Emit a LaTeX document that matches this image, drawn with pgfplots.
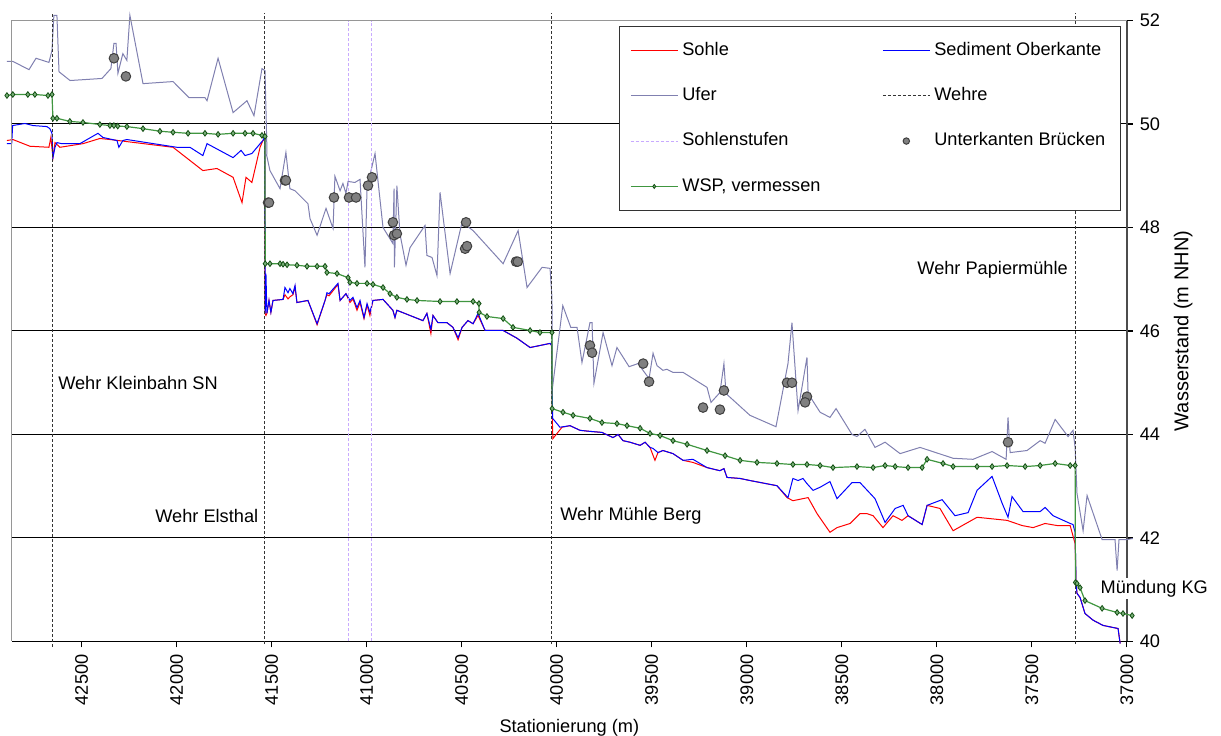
\documentclass[border=0pt]{standalone}
\usepackage{fontspec}
\setmainfont{Liberation Sans}
\usepackage{pgfplots}
\pgfplotsset{compat=1.18}
\usetikzlibrary{calc}
\definecolor{ufer}{RGB}{128,128,176}
\definecolor{stufe}{RGB}{200,170,255}
\definecolor{wsp}{RGB}{64,150,64}
\definecolor{wspdark}{RGB}{20,80,20}
\definecolor{wspfill}{RGB}{120,175,120}
\definecolor{framec}{RGB}{150,150,150}
\newcommand\fsz{\fontsize{9.1}{11}\selectfont}
\pgfplotsset{
 lineleg/.style={legend image code/.code={\draw[##1] (0pt,0pt) -- (23.5pt,0pt);}},
 markleg/.style={legend image code/.code={\draw[##1, mark size=1.6pt] plot coordinates {(11.75pt,0pt)};}},
 wspleg/.style={legend image code/.code={\draw[mark repeat=2, mark phase=2, ##1, mark size=1pt] plot coordinates {(0pt,0pt) (11.75pt,0pt) (23.5pt,0pt)};}},
}
\begin{document}
\begin{tikzpicture}
\begin{axis}[name=ax, scale only axis, width=557.5pt, height=310.5pt,
 x dir=reverse, xmin=37000, xmax=42867, ymin=40, ymax=52,
 clip=false,
 axis x line*=bottom, axis y line*=right,
 x axis line style={black, line width=0.8pt, -},
 y axis line style={black!70, line width=0.8pt, -},
 xtick={37000,37500,...,42500}, ytick={40,42,...,52},
 scaled x ticks=false,
 tick align=outside, major tick length=3pt, tick style={black, line width=0.6pt},
 ymajorgrids, grid style={black, line width=0.5pt},
 /pgf/number format/assume math mode=true,
 /pgf/number format/set thousands separator={},
 xticklabel style={rotate=90, anchor=east, /pgf/number format/fixed, /pgf/number format/precision=0},
 ticklabel style={font=\fsz},
 label style={font=\fsz},
 xlabel={Stationierung (m)}, ylabel={Wasserstand (m NHN)},
 ylabel near ticks, yticklabel pos=right,
 legend columns=2, legend cell align=left,
 legend style={at={(0.9947,0.9912)}, anchor=north east, draw=black!80, line width=0.6pt,
   font=\fsz, inner sep=5.5pt, row sep=10pt,
   nodes={inner sep=2pt, text height=6.8pt, text depth=1.9pt}},
]
% Sohle
\addplot[draw=red, line width=0.5pt, lineleg] coordinates {
(42893,49.68) (42862,49.70) (42772,49.57) (42672,49.55) (42662,49.74) (42651,49.35) (42640,49.64)
(42614,49.55) (42493,49.62) (42404,49.72) (42351,49.70) (42262,49.66) (42019,49.55) (41862,49.10)
(41788,49.14) (41703,48.97) (41656,48.48) (41635,48.97) (41604,48.87) (41561,49.55) (41546,49.68)
(41536,49.70) (41535,46.34) (41530,46.30) (41525,46.34) (41514,46.59) (41504,46.36) (41493,46.59)
(41440,46.61) (41430,46.70) (41414,46.62) (41404,46.66) (41388,46.70) (41377,46.85) (41367,46.55)
(41309,46.59) (41261,46.12) (41219,46.59) (41209,46.70) (41198,46.68) (41151,46.90) (41140,46.59)
(41109,46.72) (41088,46.55) (41072,46.62) (41051,46.40) (41035,46.55) (41014,46.24) (40998,46.50)
(40983,46.30) (40967,46.59) (40914,46.61) (40862,46.40) (40851,46.26) (40841,46.40) (40704,46.20)
(40683,46.34) (40662,45.95) (40651,46.30) (40625,46.16) (40577,46.16) (40546,46.07) (40519,45.83)
(40498,46.07) (40467,46.20) (40440,46.14) (40414,46.30) (40377,46.01) (40282,46.01) (40209,45.86)
(40140,45.68) (40035,45.76) (40027,45.72) (40023,44.27) (40020,43.92) (39972,44.14) (39930,44.17)
(39877,44.08) (39825,44.06) (39762,44.04) (39704,43.94) (39677,44.00) (39651,43.88) (39614,43.85)
(39561,43.79) (39535,43.85) (39509,43.75) (39483,43.50) (39467,43.65) (39441,43.69) (39388,43.63)
(39335,43.50) (39283,43.46) (39209,43.36) (39141,43.30) (39120,43.34) (39104,43.17) (39035,43.15)
(38983,43.11) (38841,43.01) (38788,42.78) (38757,42.72) (38704,42.76) (38677,42.78) (38630,42.47)
(38562,42.11) (38525,42.20) (38456,42.28) (38404,42.47) (38367,42.47) (38335,42.43) (38283,42.20)
(38230,42.43) (38183,42.34) (38151,42.43) (38077,42.26) (38051,42.63) (37983,42.57) (37914,42.14)
(37788,42.40) (37630,42.34) (37551,42.24) (37493,42.20) (37430,42.28) (37367,42.24) (37298,42.24)
(37272,41.89) (37267,41.12) (37262,40.93) (37246,40.85) (37220,40.54) (37177,40.41) (37125,40.31)
(37046,40.25) (37035,39.96)
};
\addlegendentry{\makebox[98pt][l]{Sohle}}
% Sediment Oberkante
\addplot[draw=blue, line width=0.5pt, lineleg] coordinates {
(42893,49.62) (42868,49.62) (42863,49.97) (42798,50.01) (42756,49.97) (42683,49.95) (42667,49.91)
(42656,49.82) (42651,49.35) (42640,49.55) (42630,49.64) (42604,49.62) (42509,49.62) (42414,49.82)
(42388,49.74) (42314,49.68) (42304,49.55) (42283,49.68) (42262,49.70) (41999,49.55) (41930,49.55)
(41862,49.39) (41840,49.62) (41703,49.35) (41661,49.49) (41640,49.39) (41604,49.43) (41556,49.64)
(41546,49.68) (41536,49.76) (41534,46.34) (41530,47.11) (41525,46.34) (41514,46.59) (41504,46.36)
(41493,46.59) (41440,46.61) (41430,46.84) (41414,46.74) (41404,46.82) (41388,46.72) (41377,46.88)
(41367,46.55) (41309,46.59) (41261,46.14) (41219,46.59) (41209,46.74) (41198,46.72) (41151,46.92)
(41140,46.59) (41109,46.72) (41088,46.59) (41072,46.65) (41051,46.45) (41035,46.59) (41014,46.26)
(40998,46.53) (40983,46.36) (40967,46.59) (40914,46.61) (40862,46.40) (40851,46.26) (40841,46.40)
(40704,46.20) (40683,46.34) (40662,46.03) (40651,46.30) (40625,46.16) (40577,46.16) (40546,46.07)
(40519,45.87) (40498,46.07) (40467,46.20) (40440,46.14) (40414,46.34) (40377,46.01) (40282,46.01)
(40209,45.86) (40140,45.68) (40035,45.76) (40026,45.72) (40025,45.01) (40021,44.31) (39983,44.14)
(39930,44.17) (39877,44.08) (39825,44.06) (39762,44.04) (39704,43.94) (39677,44.00) (39651,43.88)
(39614,43.85) (39561,43.79) (39535,43.85) (39509,43.75) (39493,43.73) (39467,43.65) (39441,43.69)
(39388,43.63) (39335,43.50) (39283,43.52) (39209,43.36) (39141,43.30) (39120,43.34) (39104,43.17)
(39035,43.15) (38983,43.11) (38841,43.01) (38783,42.78) (38757,43.15) (38730,43.11) (38704,43.15)
(38683,43.05) (38651,42.92) (38614,42.98) (38562,43.09) (38525,42.76) (38446,43.07) (38404,43.07)
(38325,42.76) (38272,42.30) (38219,42.57) (38177,42.63) (38151,42.43) (38077,42.26) (38051,42.63)
(37972,42.74) (37904,42.43) (37835,42.49) (37788,42.92) (37709,43.19) (37656,42.67) (37625,42.40)
(37604,42.80) (37546,42.51) (37456,42.51) (37430,42.59) (37388,42.43) (37298,42.28) (37283,42.26)
(37272,42.11) (37267,41.12) (37262,40.93) (37246,40.85) (37220,40.54) (37177,40.41) (37125,40.31)
(37046,40.25) (37035,39.96)
};
\addlegendentry{Sediment Oberkante}
% Ufer
\addplot[draw=ufer, line width=0.5pt, lineleg] coordinates {
(42893,51.21) (42862,51.21) (42777,51.05) (42740,51.27) (42672,51.19) (42656,51.42) (42646,52.10)
(42630,52.10) (42619,51.01) (42561,50.84) (42393,50.88) (42346,51.07) (42330,51.56) (42319,51.56)
(42309,50.98) (42283,51.36) (42262,51.23) (42246,52.10) (42177,50.78) (42019,50.82) (41935,50.51)
(41851,50.51) (41840,50.45) (41782,51.27) (41703,50.22) (41630,50.45) (41593,50.16) (41551,51.07)
(41535,51.03) (41525,49.53) (41526,49.39) (41509,49.10) (41456,48.75) (41425,49.45) (41404,48.75)
(41377,48.71) (41309,48.46) (41298,48.17) (41261,47.85) (41214,48.37) (41177,47.98) (41167,48.99)
(41140,48.71) (41125,48.85) (41109,48.66) (41098,48.89) (41062,48.87) (41035,48.93) (41009,47.23)
(40998,48.77) (40956,49.43) (40914,48.00) (40862,47.69) (40856,48.75) (40854,47.23) (40841,48.81)
(40825,47.88) (40793,47.27) (40772,47.61) (40693,48.04) (40683,47.46) (40656,47.42) (40630,47.07)
(40614,48.68) (40561,47.11) (40498,48.10) (40440,47.94) (40282,47.30) (40203,47.94) (40156,46.84)
(40077,47.23) (40035,47.21) (40025,46.65) (40022,44.91) (39968,46.49) (39926,46.07) (39893,46.07)
(39867,45.39) (39825,46.16) (39814,46.16) (39804,44.99) (39756,45.97) (39709,45.33) (39683,45.68)
(39619,45.31) (39572,45.37) (39514,45.08) (39493,45.57) (39472,45.33) (39441,45.24) (39420,45.26)
(39388,45.20) (39335,45.20) (39209,44.91) (39188,44.62) (39141,44.81) (39120,45.37) (39109,44.79)
(38983,44.37) (38846,44.15) (38783,45.37) (38762,46.16) (38730,44.46) (38683,45.49) (38677,44.79)
(38614,44.43) (38562,44.33) (38530,44.50) (38446,44.00) (38420,43.96) (38378,44.10) (38325,43.75)
(38272,43.85) (38193,43.63) (38088,43.75) (37914,43.54) (37809,43.52) (37709,43.67) (37635,43.52)
(37625,44.33) (37614,43.65) (37525,43.69) (37456,43.88) (37430,43.83) (37377,44.29) (37309,43.96)
(37283,44.08) (37272,43.75) (37262,42.86) (37230,42.14) (37209,42.82) (37130,41.97) (37062,41.97)
(37051,41.37) (37041,41.97) (37000,41.97) (36968,41.99)
};
\addlegendentry{\makebox[98pt][l]{Ufer}}
% Wehre
\addplot[draw=black!80, line width=0.5pt, dash pattern=on 1.5pt off 1pt, lineleg] coordinates {(42653,39.9) (42653,52.15)};
\addlegendentry{Wehre}
\addplot[draw=black!80, line width=0.5pt, dash pattern=on 1.5pt off 1pt, forget plot] coordinates {(41536,39.95) (41536,52.15)};
\addplot[draw=black!80, line width=0.5pt, dash pattern=on 1.5pt off 1pt, forget plot] coordinates {(40027,39.95) (40027,52.15)};
\addplot[draw=black!80, line width=0.5pt, dash pattern=on 1.5pt off 1pt, forget plot] coordinates {(37271,39.95) (37271,52.15)};
% Sohlenstufen
\addplot[draw=stufe, line width=0.5pt, dash pattern=on 1.5pt off 1pt, lineleg] coordinates {(41094,40) (41094,52)};
\addlegendentry{\makebox[98pt][l]{Sohlenstufen}}
\addplot[draw=stufe, line width=0.5pt, dash pattern=on 1.5pt off 1pt, forget plot] coordinates {(40974,40) (40974,52)};
% Unterkanten Bruecken
\addplot[only marks, mark=*, mark size=2.4pt, mark options={fill=black!50, draw=black!75, line width=0.5pt}, markleg] coordinates {
(42330,51.27) (42267,50.92) (41519,48.48) (41514,48.48) (41430,48.91) (41425,48.91) (41172,48.58)
(41093,48.58) (41056,48.58) (40993,48.81) (40972,48.97) (40862,48.10) (40856,47.85) (40841,47.88)
(40477,48.10) (40482,47.59) (40472,47.64) (40214,47.34) (40205,47.34) (39825,45.72) (39814,45.58)
(39545,45.37) (39514,45.02) (39230,44.52) (39141,44.48) (39120,44.85) (38788,45.00) (38762,45.00)
(38683,44.73) (38693,44.62) (37625,43.85)
};
\addlegendentry{Unterkanten Brücken}
% WSP
\addplot[draw=wsp, line width=0.6pt, mark=diamond*, mark size=1.4pt, mark options={fill=wspfill, draw=wspdark, line width=0.4pt}, wspleg] coordinates {
(42893,50.55) (42862,50.57) (42783,50.57) (42746,50.57) (42677,50.55) (42656,50.57) (42651,50.11)
(42630,50.11) (42562,50.05) (42493,50.03) (42404,49.99) (42351,49.97) (42330,49.97) (42310,49.96)
(42262,49.95) (42177,49.91) (42088,49.86) (42019,49.84) (41940,49.82) (41851,49.82) (41782,49.80)
(41703,49.82) (41640,49.82) (41598,49.82) (41551,49.78) (41535,49.76) (41534,47.30) (41509,47.30)
(41456,47.30) (41440,47.29) (41419,47.28) (41367,47.27) (41314,47.25) (41261,47.25) (41219,47.25)
(41209,47.13) (41156,47.11) (41098,47.03) (41088,46.94) (41051,46.92) (40998,46.92) (40967,46.90)
(40914,46.84) (40877,46.72) (40841,46.65) (40788,46.61) (40735,46.59) (40614,46.57) (40525,46.57)
(40440,46.57) (40409,46.53) (40408,46.36) (40367,46.28) (40282,46.24) (40230,46.07) (40140,46.01)
(40088,45.97) (40025,45.97) (40024,44.50) (39967,44.43) (39914,44.37) (39825,44.31) (39762,44.23)
(39683,44.21) (39630,44.17) (39561,44.12) (39509,44.02) (39456,43.98) (39388,43.88) (39314,43.81)
(39209,43.69) (39114,43.59) (39035,43.50) (38946,43.46) (38841,43.44) (38757,43.42) (38683,43.42)
(38614,43.40) (38546,43.36) (38420,43.38) (38335,43.36) (38272,43.40) (38219,43.38) (38151,43.36)
(38077,43.36) (38051,43.52) (37967,43.44) (37914,43.38) (37788,43.38) (37709,43.38) (37630,43.40)
(37535,43.38) (37456,43.40) (37377,43.44) (37298,43.40) (37272,43.40) (37270,41.14) (37262,41.12)
(37246,41.04) (37220,40.79) (37130,40.64) (37051,40.56) (37020,40.54) (36972,40.50)
};
\addlegendentry{WSP, vermessen}
% frame top/left
\draw[framec, line width=0.5pt] (axis cs:42867,40) -- (axis cs:42867,52) -- (axis cs:37000,52);
% texts
\node[anchor=west, font=\fsz, inner sep=0pt] at (axis cs:42625,45.0) {Wehr Kleinbahn SN};
\node[anchor=west, font=\fsz, inner sep=0pt] at (axis cs:42114,42.42) {Wehr Elsthal};
\node[anchor=west, font=\fsz, inner sep=0pt] at (axis cs:39983,42.42) {Wehr Mühle Berg};
\node[anchor=west, font=\fsz, inner sep=0pt] at (axis cs:38104,47.19) {Wehr Papiermühle};
\node[anchor=west, font=\fsz, fill=white, inner sep=1pt] at (axis cs:37150,41.02) {Mündung KG};
\end{axis}
\pgfresetboundingbox
\path[use as bounding box] ($(ax.south west)+(-5.95pt,-47.25pt)$) rectangle ($(ax.south west)+(604.6pt,320.75pt)$);
\end{tikzpicture}
\end{document}
